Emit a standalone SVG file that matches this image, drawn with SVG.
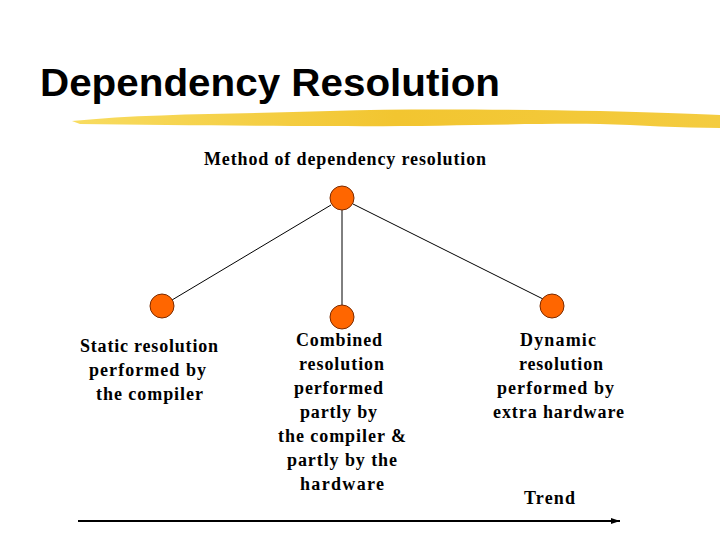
<svg xmlns="http://www.w3.org/2000/svg" width="720" height="540" viewBox="0 0 720 540">
<style>
.t{font-family:"Liberation Serif","Times New Roman",serif;font-weight:bold;font-size:18px;fill:#000;text-anchor:middle}
.node{fill:#ff6600;stroke:#7a2a00;stroke-width:1}
.edge{stroke:#000;stroke-width:1;fill:none}
</style>
<defs>
<linearGradient id="brush" x1="0" y1="0" x2="1" y2="0">
<stop offset="0" stop-color="#f8dc60"/>
<stop offset="0.5" stop-color="#f2c530"/>
<stop offset="1" stop-color="#f4cc40"/>
</linearGradient>
<marker id="ah" markerWidth="10" markerHeight="8" refX="9" refY="4" orient="auto" markerUnits="userSpaceOnUse">
<path d="M0,1 L9,4 L0,7 Z" fill="#000"/>
</marker>
</defs>
<rect width="720" height="540" fill="#fff"/>
<text x="40" y="96" font-family="Liberation Sans,Arial,sans-serif" font-weight="bold" font-size="38" fill="#000" textLength="460" lengthAdjust="spacingAndGlyphs">Dependency Resolution</text>
<path d="M72,121 C150,113 250,114 330,111 C420,108 520,110 600,111 C650,112 690,114 720,115 L720,128 C680,128 640,125 600,124 C520,123 430,127 330,126 C250,126 160,125 80,124 Z" fill="url(#brush)"/>
<text class="t" x="345" y="165" textLength="282" lengthAdjust="spacing">Method of dependency resolution</text>
<g id="connectors">
<line class="edge" x1="331" y1="205" x2="172" y2="300"/>
<line class="edge" x1="342" y1="210" x2="342" y2="305"/>
<line class="edge" x1="353" y1="204" x2="543" y2="299"/>
<line x1="78" y1="521" x2="620" y2="521" stroke="#000" stroke-width="2" marker-end="url(#ah)"/>
</g>
<g id="root"><circle class="node" cx="342" cy="198" r="12"/></g>
<g id="static">
<circle class="node" cx="162" cy="306" r="12"/>
<text class="t" x="149" y="352" textLength="138" lengthAdjust="spacing">Static resolution</text>
<text class="t" x="147.5" y="376" textLength="117" lengthAdjust="spacing">performed by</text>
<text class="t" x="149.5" y="400" textLength="107" lengthAdjust="spacing">the compiler</text>
</g>
<g id="combined">
<circle class="node" cx="342" cy="317" r="12"/>
<text class="t" x="339" y="346" textLength="86" lengthAdjust="spacing">Combined</text>
<text class="t" x="341.5" y="370" textLength="85" lengthAdjust="spacing">resolution</text>
<text class="t" x="338.5" y="394" textLength="89" lengthAdjust="spacing">performed</text>
<text class="t" x="338.5" y="418" textLength="77" lengthAdjust="spacing">partly by</text>
<text class="t" x="342" y="442" textLength="128" lengthAdjust="spacing">the compiler &amp;</text>
<text class="t" x="342" y="466" textLength="110" lengthAdjust="spacing">partly by the</text>
<text class="t" x="342" y="490" textLength="84" lengthAdjust="spacing">hardware</text>
</g>
<g id="dynamic">
<circle class="node" cx="552" cy="306" r="12"/>
<text class="t" x="558" y="346" textLength="76" lengthAdjust="spacing">Dynamic</text>
<text class="t" x="561" y="370" textLength="84" lengthAdjust="spacing">resolution</text>
<text class="t" x="555.5" y="394" textLength="117" lengthAdjust="spacing">performed by</text>
<text class="t" x="558.5" y="418" textLength="131" lengthAdjust="spacing">extra hardware</text>
</g>
<text class="t" x="549.5" y="504" textLength="51" lengthAdjust="spacing">Trend</text>
</svg>
